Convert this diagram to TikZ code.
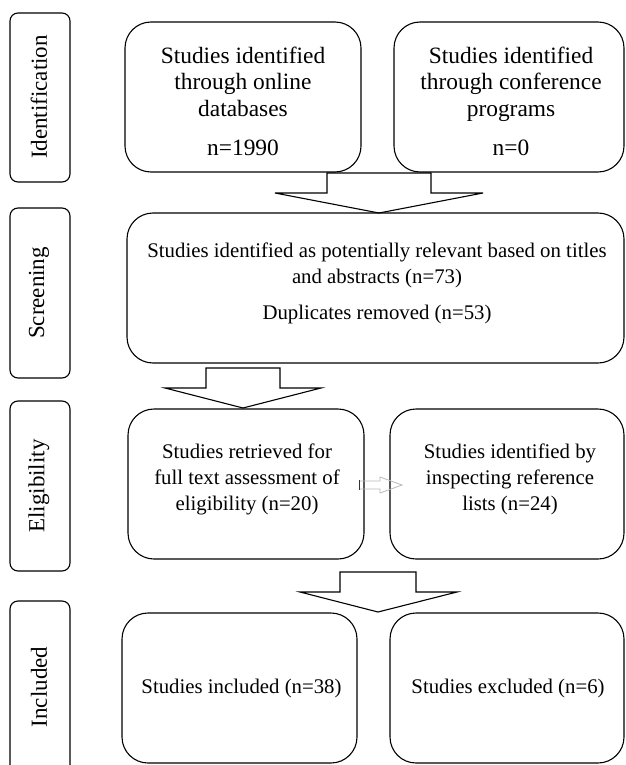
\documentclass[tikz,border=0pt]{standalone}
\usepackage{fontspec}
\setmainfont{Liberation Serif}
\begin{document}
\begin{tikzpicture}[x=1pt,y=-1pt,
  frame/.style={draw, line width=1.1pt, rounded corners=26pt, inner sep=0pt},
  tag/.style={draw, line width=1.1pt, rounded corners=8pt, minimum width=60pt, inner sep=0pt},
  tagtext/.style={rotate=90, font=\fontsize{23}{26}\selectfont, inner sep=0pt},
  toptext/.style={align=center, font=\fontsize{23.4}{26.5}\selectfont, inner sep=0pt},
  midtext/.style={align=center, font=\fontsize{20.8}{26.3}\selectfont, inner sep=0pt},
  blockarrow/.style={draw, line width=1.1pt, line join=miter},
  thinarrow/.style={draw=gray!55, line width=0.8pt, line join=miter}]
\clip (0,0) rectangle (625,765);
% side tags
\node[tag, minimum height=169pt] (tag1) at (40,97.5) {};
\node[tagtext] (tag1t) at (39,97) {Identification};
\node[tag, minimum height=170pt] (tag2) at (40,293) {};
\node[tagtext] (tag2t) at (39,293) {Screening};
\node[tag, minimum height=170pt] (tag3) at (40,486) {};
\node[tagtext] (tag3t) at (39,486) {Eligibility};
\node[tag, minimum height=174pt] (tag4) at (40,688) {};
\node[tagtext] (tag4t) at (39,687) {Included};
% identification row
\node[frame, minimum width=236pt, minimum height=150pt] (b1) at (243,97) {};
\node[toptext] (b1t) at (243,101) {Studies identified\\through online\\databases\\[12.5pt]n=1990};
\node[frame, minimum width=230pt, minimum height=150pt] (b2) at (509,97) {};
\node[toptext] (b2t) at (511,101) {Studies identified\\through conference\\programs\\[12.5pt]n=0};
% screening
\node[frame, minimum width=497pt, minimum height=150pt] (sc) at (375.5,288) {};
\node[midtext] (sct) at (377,283.5) {Studies identified as potentially relevant based on titles\\and abstracts (n=73)\\[10pt]Duplicates removed (n=53)};
% eligibility
\node[frame, minimum width=236pt, minimum height=150pt] (b3) at (246,484) {};
\node[midtext] (b3t) at (247,479.5) {Studies retrieved for\\full text assessment of\\eligibility (n=20)};
\node[frame, minimum width=234pt, minimum height=150pt] (b4) at (507,484) {};
\node[midtext] (b4t) at (510,479.5) {Studies identified by\\inspecting reference\\lists (n=24)};
% included
\node[frame, minimum width=235pt, minimum height=150pt] (b5) at (239.5,688) {};
\node[midtext] (b5t) at (241.5,688) {Studies included (n=38)};
\node[frame, minimum width=234pt, minimum height=150pt] (b6) at (507,688) {};
\node[midtext] (b6t) at (508,688) {Studies excluded (n=6)};
% block arrows
\draw[blockarrow] (327,173) -- (431,173) -- (431,193) -- (483,193) -- (379,213) -- (275,193) -- (327,193) -- cycle;
\draw[blockarrow] (206,368) -- (280,368) -- (280,388) -- (321,388) -- (243,408) -- (165,388) -- (206,388) -- cycle;
\draw[blockarrow] (340,572) -- (416,572) -- (416,592) -- (457,592) -- (378,612) -- (300,592) -- (340,592) -- cycle;
% small arrow between eligibility boxes
\coordinate (sa) at (359,485);
\coordinate (sb) at (402,485);
\draw[thinarrow] ([yshift=4pt]sa) -- (380,481) -- (380,477) -- (sb) -- (380,493) -- (380,489) -- ([yshift=-4pt]sa);
\draw[line width=1pt, black!80] ([yshift=5pt]sa) -- ([yshift=-5pt]sa);
\end{tikzpicture}
\end{document}
